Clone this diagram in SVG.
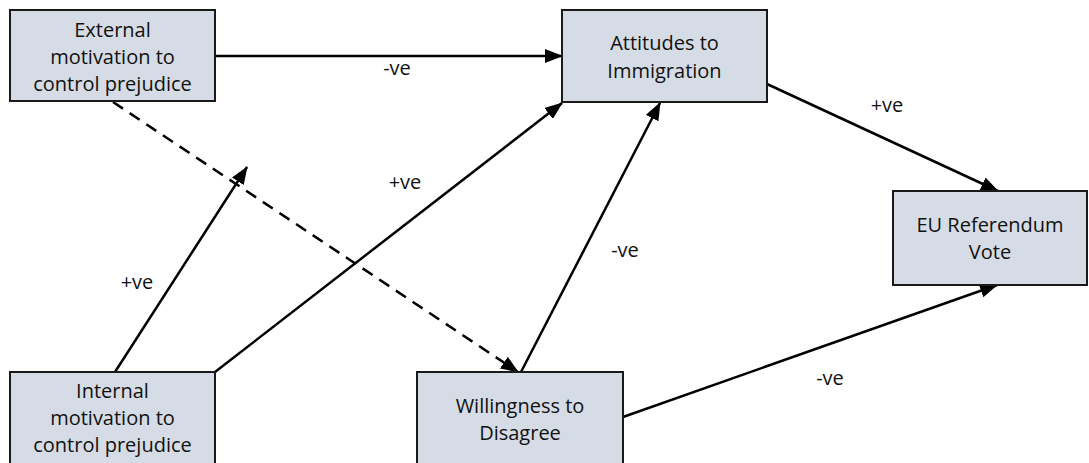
<svg xmlns="http://www.w3.org/2000/svg" width="1089" height="463" viewBox="0 0 1089 463">
<style>
.box{fill:#d6dce5;stroke:#1a1a1a;stroke-width:2}
.t{font-family:"Open Sans","Liberation Sans",sans-serif;font-size:20px;fill:#111;text-anchor:middle}
.c{stroke:#000;stroke-width:2.5;fill:none;marker-end:url(#ah)}
.d{stroke-dasharray:12 8}
</style>
<defs>
<marker id="ah" viewBox="0 0 18 14" refX="17" refY="7" markerWidth="18" markerHeight="14" markerUnits="userSpaceOnUse" orient="auto">
<path d="M0,0 L18,7 L0,14 z" fill="#000"/>
</marker>
</defs>
<rect width="1089" height="463" fill="#fff"/>
<g id="connectors">
<line class="c" x1="215" y1="56" x2="562" y2="56"/>
<line class="c" x1="767" y1="84" x2="998" y2="191"/>
<line class="c" x1="623" y1="417" x2="997" y2="285"/>
<line class="c" x1="521" y1="372" x2="660" y2="103"/>
<line class="c" x1="215" y1="372" x2="562" y2="103"/>
<line class="c" x1="115" y1="372" x2="247" y2="167"/>
<line class="c d" x1="113" y1="102" x2="518" y2="372"/>
<text class="t" x="397" y="75">-ve</text>
<text class="t" x="887" y="112">+ve</text>
<text class="t" x="405" y="189">+ve</text>
<text class="t" x="625" y="257">-ve</text>
<text class="t" x="137" y="289">+ve</text>
<text class="t" x="830" y="385">-ve</text>
</g>
<g id="external">
<rect class="box" x="10" y="10" width="205" height="91"/>
<text class="t" x="112.5" y="37">External</text>
<text class="t" x="112.5" y="64">motivation to</text>
<text class="t" x="112.5" y="91">control prejudice</text>
</g>
<g id="attitudes">
<rect class="box" x="562" y="10" width="205" height="92"/>
<text class="t" x="664.5" y="50">Attitudes to</text>
<text class="t" x="664.5" y="78">Immigration</text>
</g>
<g id="eu">
<rect class="box" x="893" y="191" width="194" height="94"/>
<text class="t" x="990" y="232">EU Referendum</text>
<text class="t" x="990" y="259">Vote</text>
</g>
<g id="internal">
<rect class="box" x="10" y="372" width="205" height="100"/>
<text class="t" x="112.5" y="398">Internal</text>
<text class="t" x="112.5" y="425">motivation to</text>
<text class="t" x="112.5" y="452">control prejudice</text>
</g>
<g id="willingness">
<rect class="box" x="417" y="372" width="206" height="100"/>
<text class="t" x="520" y="413">Willingness to</text>
<text class="t" x="520" y="440">Disagree</text>
</g>
</svg>
